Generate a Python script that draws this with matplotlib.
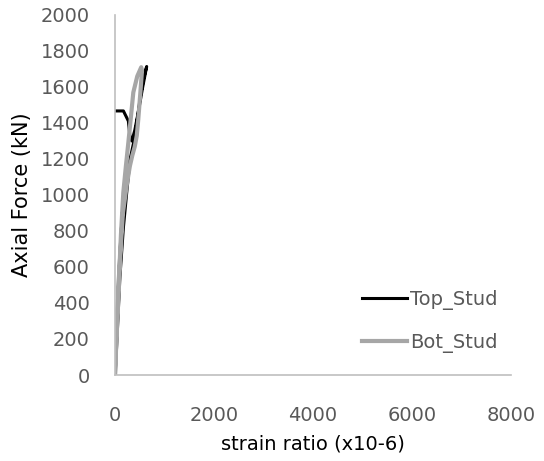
import numpy as np
import matplotlib.pyplot as plt

# strain (x10-6) and axial force (kN)
top_strain = [0, 20, 100, 170, 237, 304, 360, 405, 440, 480, 520, 580, 640, 560, 470, 400, 340, 300, 270, 170, 0]
top_force = [0, 84, 548, 820, 1014, 1198, 1270, 1328, 1400, 1480, 1560, 1650, 1714, 1600, 1460, 1360, 1300, 1330, 1411, 1467, 1467]
bot_strain = [0, 30, 68, 120, 168, 220, 270, 320, 370, 450, 530, 545, 510, 470, 440, 400, 350, 300, 240, 160, 80, 0]
bot_force = [0, 250, 456, 780, 1014, 1160, 1292, 1430, 1570, 1660, 1710, 1690, 1560, 1420, 1330, 1270, 1220, 1160, 1060, 900, 550, 0]

xticks = [0, 2000, 4000, 6000, 8000]
yticks = list(range(0, 2001, 200))
txt = '#595959'

fig = plt.figure(figsize=(5.44, 4.61), dpi=100)
ax = fig.add_axes([115/544, 1-375/461, (511-115)/544, (375-15)/461])
ax.plot(top_strain, top_force, color='black', lw=2.2, label='Top_Stud', solid_joinstyle='round')
ax.plot(bot_strain, bot_force, color='#A6A6A6', lw=3.0, label='Bot_Stud', solid_joinstyle='round')
ax.set_xlim(0, 8000); ax.set_ylim(0, 2000)
ax.set_xticks(xticks); ax.set_yticks(yticks)
for s in ['top', 'right']:
    ax.spines[s].set_visible(False)
for s in ['left', 'bottom']:
    ax.spines[s].set_color('#BFBFBF'); ax.spines[s].set_linewidth(1.2)
ax.tick_params(length=0, labelsize=14, colors=txt)
ax.tick_params(axis='x', pad=22)
ax.tick_params(axis='y', pad=18)
ax.set_xlabel('strain ratio (x10-6)', fontsize=14, color='black', labelpad=7)
ax.set_ylabel('Axial Force (kN)', fontsize=15, color='black', labelpad=6)
ax.legend(loc='center left', bbox_to_anchor=(362/544, 1-321.5/461), bbox_transform=fig.transFigure,
          frameon=False, fontsize=14, borderpad=0, borderaxespad=0, handlelength=2.3,
          handletextpad=0.15, labelspacing=1.2, labelcolor=txt)
fig.savefig('out.png', dpi=100)
